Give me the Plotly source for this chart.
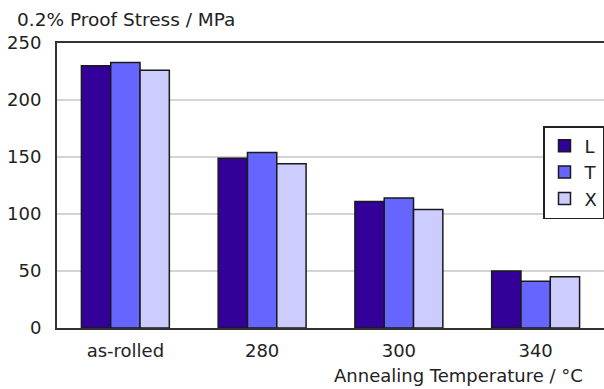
import plotly.graph_objects as go

# Annealing conditions and measured 0.2% proof stress (MPa) per direction
categories = ["as-rolled", "280", "300", "340"]
stress_L = [230, 149, 111, 50]
stress_T = [233, 154, 114, 41]
stress_X = [226, 144, 104, 45]
y_ticks = [0, 50, 100, 150, 200, 250]

series = [
    ("L", stress_L, "#330099"),
    ("T", stress_T, "#6666FF"),
    ("X", stress_X, "#CCCCFF"),
]

FONT = "DejaVu Sans, Verdana, sans-serif"
TEXT = "#222222"

fig = go.Figure()
for name, vals, color in series:
    fig.add_trace(go.Bar(
        x=categories, y=vals, name=name,
        marker=dict(color=color, line=dict(color="#1a1a1a", width=1.5)),
    ))

fig.update_layout(
    width=604, height=389,
    margin=dict(l=57, r=0, t=43, b=61),
    paper_bgcolor="white", plot_bgcolor="white",
    barmode="group", bargap=0.357, bargroupgap=0,
    font=dict(family=FONT, size=18, color=TEXT),
    title=dict(text="0.2% Proof Stress / MPa", x=17 / 604, xanchor="left",
               xref="container", y=1 - 20 / 389, yanchor="middle",
               yref="container", font=dict(size=18.5, color=TEXT)),
    legend=dict(x=(543 - 57) / 547, xanchor="left", y=(328 - 126) / 285,
                yanchor="top", bordercolor="#222222", borderwidth=1.5,
                bgcolor="white", itemwidth=30, font=dict(size=18),
                tracegroupgap=0),
    showlegend=True,
)

fig.update_xaxes(
    showline=True, mirror=True, linecolor="#333333", linewidth=2,
    ticks="outside", ticklen=5, tickcolor="rgba(0,0,0,0)",
    showgrid=False,
)
fig.update_yaxes(
    range=[0, 250], tickvals=y_ticks,
    showline=True, mirror=False, linecolor="#333333", linewidth=2,
    ticks="outside", ticklen=10, tickcolor="rgba(0,0,0,0)",
    showgrid=True, gridcolor="#d4d4d4", gridwidth=1.5, zeroline=False,
)

fig.add_annotation(
    text="Annealing Temperature / °C", xref="paper", yref="paper",
    x=(585 - 57) / 547, xanchor="right", y=-(375 - 328) / 285,
    yanchor="middle", showarrow=False, font=dict(size=18, color=TEXT),
)

fig.write_html("out.html")
